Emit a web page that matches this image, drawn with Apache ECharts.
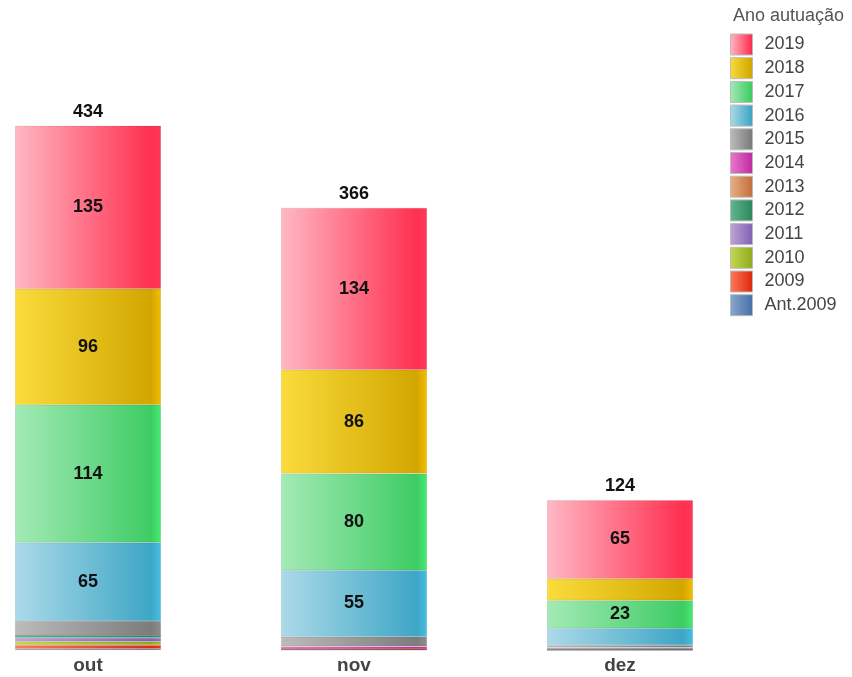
<!DOCTYPE html>
<html><head><meta charset="utf-8">
<script src="https://cdn.jsdelivr.net/npm/echarts@6/dist/echarts.min.js"></script>
<style>html,body{margin:0;padding:0;background:#fff;overflow:hidden}#c{width:897px;height:677px;margin-left:-45px}</style>
</head><body><div id="c"></div>
<script>
const categories = ['out', 'nov', 'dez'];
const seriesNames = ['Ant.2009', '2009', '2010', '2011', '2012', '2013', '2014', '2015', '2016', '2017', '2018', '2019'];
const vAnt2009 = [1, 0, 0];
const v2009 = [3, 1, 0];
const v2010 = [3, 0, 0];
const v2011 = [3, 0, 0];
const v2012 = [2, 0, 1];
const v2013 = [0, 0, 0];
const v2014 = [0, 2, 1];
const v2015 = [12, 8, 2];
const v2016 = [65, 55, 14];
const v2017 = [114, 80, 23];
const v2018 = [96, 86, 18];
const v2019 = [135, 134, 65];
const totals = [434, 366, 124];
const seriesValues = [vAnt2009, v2009, v2010, v2011, v2012, v2013, v2014, v2015, v2016, v2017, v2018, v2019];
const colorPairs = [
  ['#8aa8d0', '#4a72a8'],
  ['#ff7a5a', '#e02a10'],
  ['#c4d850', '#92ac20'],
  ['#c0a4d8', '#8464b4'],
  ['#60b890', '#2e8860'],
  ['#eab084', '#c47040'],
  ['#ea78cc', '#c22ea4'],
  ['#bcbcbc', '#7c7c7c'],
  ['#acdae8', '#3ea6c6'],
  ['#a4eab6', '#3ecc64'],
  ['#fadc3c', '#d2a600'],
  ['#ffb8c4', '#ff3050']
];
function grad(p) {
  return new echarts.graphic.LinearGradient(0, 0, 1, 0, [
    {offset: 0, color: p[0]}, {offset: 0.93, color: p[1]}, {offset: 1, color: echarts.color.lift(p[1], -0.15)}
  ]);
}
const FONT = '"Liberation Sans", Arial, sans-serif';
const series = seriesNames.map((n, i) => ({
  name: n, type: 'bar', stack: 's', barWidth: 146,
  data: seriesValues[i],
  itemStyle: {color: grad(colorPairs[i]), borderColor: 'rgba(0,0,0,0.12)', borderWidth: 0.6},
  label: {show: true, position: 'inside', fontFamily: FONT, fontWeight: 'bold', fontSize: 18, color: '#111',
    formatter: p => (p.value >= 20 ? p.value : '')},
  emphasis: {disabled: true}
}));
series.push({
  name: 'Total', type: 'bar', stack: 's', barWidth: 146, data: totals.map(() => 0),
  itemStyle: {color: 'transparent'},
  label: {show: true, position: 'top', distance: 5, fontFamily: FONT, fontWeight: 'bold', fontSize: 18, color: '#111',
    formatter: p => totals[p.dataIndex]}
});
const chart = echarts.init(document.getElementById('c'), null, {renderer: 'canvas'});
chart.setOption({
  animation: false,
  backgroundColor: '#fff',
  title: {text: 'Ano autuação', left: 778, top: 7, padding: 0,
    textStyle: {fontFamily: FONT, fontSize: 18, fontWeight: 'normal', color: '#555'}},
  legend: {
    orient: 'vertical', left: 775, top: 33.5, padding: 0, itemWidth: 22, itemHeight: 21, itemGap: 1.7,
    data: seriesNames.slice().reverse(), icon: 'rect',
    itemStyle: {borderColor: '#bbb', borderWidth: 1},
    textStyle: {fontFamily: FONT, fontSize: 18, color: '#444', padding: [0, 0, 0, 7]}
  },
  grid: {left: 0, right: 99, top: 46, bottom: 27, containLabel: false},
  xAxis: {type: 'category', data: categories,
    axisLine: {show: false}, axisTick: {show: false},
    axisLabel: {fontFamily: FONT, fontWeight: 'bold', fontSize: 19, color: '#444', margin: 6}},
  yAxis: {type: 'value', min: 0, max: 500, show: false, splitLine: {show: false}},
  series: series
});
</script></body></html>
